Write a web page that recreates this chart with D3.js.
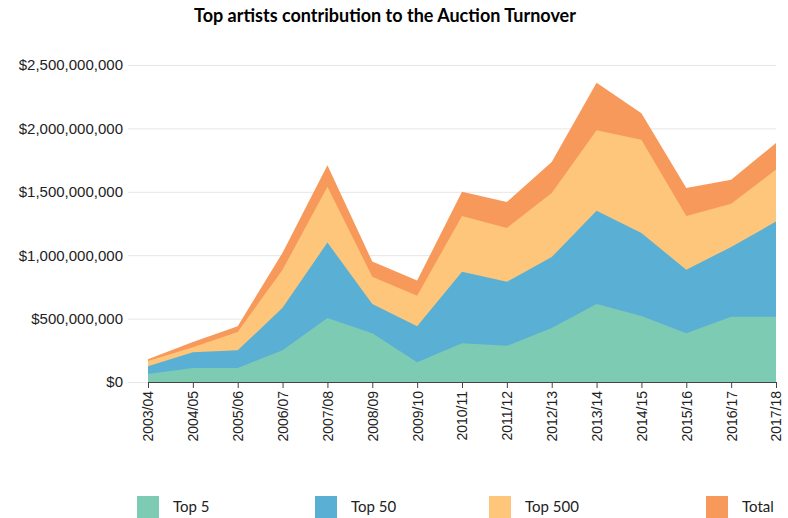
<!DOCTYPE html>
<html><head><meta charset="utf-8">
<script src="https://cdn.jsdelivr.net/npm/d3@7"></script>
<style>body{margin:0;background:#fff;font-family:Lato,"DejaVu Sans",sans-serif}</style>
</head><body><svg id="c" width="788" height="518"></svg>
<script>
const seasons=["2003/04","2004/05","2005/06","2006/07","2007/08","2008/09","2009/10","2010/11","2011/12","2012/13","2013/14","2014/15","2015/16","2016/17","2017/18"];
// cumulative top edges (USD)
const top5=[63e6,110e6,110e6,250e6,505e6,385e6,155e6,305e6,285e6,425e6,615e6,520e6,385e6,515e6,515e6];
const top50=[125e6,235e6,250e6,585e6,1100e6,615e6,440e6,870e6,790e6,985e6,1350e6,1175e6,885e6,1065e6,1265e6];
const top500=[165e6,275e6,395e6,885e6,1540e6,830e6,680e6,1310e6,1215e6,1490e6,1985e6,1910e6,1310e6,1405e6,1675e6];
const total=[180e6,315e6,440e6,1020e6,1710e6,950e6,800e6,1500e6,1420e6,1735e6,2360e6,2120e6,1530e6,1595e6,1885e6];
const yTicks=[0,5e8,1e9,1.5e9,2e9,2.5e9];
const seriesNames=["Top 5","Top 50","Top 500","Total"];
const colors=["#7ecbb3","#5aafd4","#fdc67a","#f7995a"];

const svg=d3.select("#c");
const x=d3.scalePoint().domain(seasons).range([148,776]);
const y=d3.scaleLinear().domain([0,2.5e9]).range([382,65]);
svg.append("text").attr("x",385).attr("y",22).attr("text-anchor","middle")
 .attr("font-size",18).attr("font-weight","bold").text("Top artists contribution to the Auction Turnover");
const yAxis=svg.append("g").attr("transform","translate(776,0)")
 .call(d3.axisLeft(y).tickValues(yTicks).tickSize(776-128).tickFormat(d=>"$"+d3.format(",")(d)));
yAxis.select(".domain").remove();
yAxis.selectAll("line").attr("stroke","#e6e6e6");
yAxis.selectAll("text").attr("font-size",15).attr("fill","#222").attr("dx",-2);
const all=[top5,top50,top500,total];
for(let i=3;i>=0;i--){
  svg.append("path").datum(all[i]).attr("fill",colors[i])
   .attr("d",d3.area().x((d,j)=>x(seasons[j])).y0(y(0)).y1(d=>y(d)));
}
const xAxis=svg.append("g").attr("transform","translate(0,382)").call(d3.axisBottom(x).tickSize(6));
xAxis.select(".domain").attr("stroke","#444");
xAxis.selectAll("line").attr("stroke","#444");
xAxis.selectAll("text").attr("font-size",14).attr("fill","#222")
 .attr("transform","rotate(-90)").attr("text-anchor","end").attr("x",-9).attr("y",0).attr("dy","0.35em");
const lx=[137,315,489,706];
seriesNames.forEach((n,i)=>{
  svg.append("rect").attr("x",lx[i]).attr("y",496).attr("width",22).attr("height",22).attr("fill",colors[i]);
  svg.append("text").attr("x",lx[i]+36).attr("y",512).attr("font-size",15).attr("fill","#222").text(n);
});
</script></body></html>
